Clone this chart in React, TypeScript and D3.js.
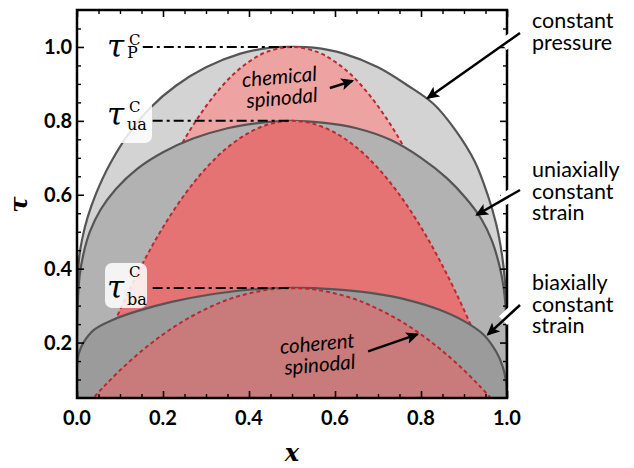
import React, { useEffect, useRef } from 'react';
import * as d3 from 'd3';

// binodals
const pressureX = [0, 0.0008, 0.002, 0.005, 0.012, 0.025, 0.045, 0.075, 0.12, 0.17, 0.23, 0.3, 0.38, 0.45, 0.5, 0.55, 0.62, 0.7, 0.77, 0.83, 0.88, 0.925, 0.955, 0.975, 0.988, 0.995, 0.999, 1];
const pressureTau = [0.05, 0.3, 0.37, 0.43, 0.48, 0.54, 0.605, 0.68, 0.765, 0.835, 0.895, 0.945, 0.982, 0.998, 1, 0.998, 0.982, 0.945, 0.895, 0.845, 0.775, 0.69, 0.6, 0.52, 0.44, 0.37, 0.29, 0.05];

const uniaxX = [0, 0.0005, 0.002, 0.006, 0.015, 0.03, 0.055, 0.09, 0.14, 0.2, 0.27, 0.35, 0.43, 0.5, 0.57, 0.65, 0.73, 0.8, 0.86, 0.905, 0.94, 0.965, 0.982, 0.992, 0.997, 1];
const uniaxTau = [0.05, 0.25, 0.31, 0.38, 0.44, 0.5, 0.56, 0.615, 0.67, 0.715, 0.752, 0.78, 0.795, 0.8, 0.795, 0.78, 0.748, 0.7, 0.645, 0.59, 0.535, 0.475, 0.41, 0.35, 0.29, 0.05];

const biaxX = [0, 0.0005, 0.004, 0.015, 0.04, 0.08, 0.14, 0.22, 0.31, 0.4, 0.5, 0.6, 0.69, 0.77, 0.84, 0.9, 0.945, 0.975, 0.99, 0.997, 1];
const biaxTau = [0.05, 0.145, 0.17, 0.2, 0.235, 0.26, 0.285, 0.31, 0.33, 0.343, 0.348, 0.344, 0.333, 0.315, 0.29, 0.258, 0.222, 0.175, 0.135, 0.1, 0.05];

// spinodals
const chemX = [0.2, 0.24, 0.28, 0.32, 0.36, 0.4, 0.44, 0.5, 0.56, 0.6, 0.64, 0.68, 0.72, 0.76, 0.8];
const chemTau = [0.64, 0.73, 0.806, 0.87, 0.922, 0.96, 0.986, 1, 0.986, 0.96, 0.922, 0.87, 0.806, 0.73, 0.64];

const uniSpinX = [0.05, 0.08, 0.12, 0.16, 0.2, 0.25, 0.3, 0.35, 0.4, 0.45, 0.5, 0.55, 0.6, 0.65, 0.7, 0.75, 0.8, 0.84, 0.88, 0.92, 0.95];
const uniSpinTau = [0.152, 0.236, 0.338, 0.43, 0.512, 0.6, 0.672, 0.728, 0.768, 0.792, 0.8, 0.792, 0.768, 0.728, 0.672, 0.6, 0.512, 0.43, 0.338, 0.236, 0.152];

const cohX = [0.03, 0.06, 0.1, 0.15, 0.2, 0.25, 0.3, 0.35, 0.4, 0.45, 0.5, 0.55, 0.6, 0.65, 0.7, 0.75, 0.8, 0.85, 0.9, 0.94, 0.97];
const cohTau = [0.04, 0.078, 0.125, 0.177, 0.222, 0.26, 0.291, 0.316, 0.333, 0.344, 0.347, 0.344, 0.333, 0.316, 0.291, 0.26, 0.222, 0.177, 0.125, 0.078, 0.04];

const criticalTau = [1.0, 0.8, 0.348];
const xMajor = [0, 0.2, 0.4, 0.6, 0.8, 1.0];
const yMajor = [0.2, 0.4, 0.6, 0.8, 1.0];

const W = 634, H = 468;
const margin = { top: 10, right: 127, bottom: 70, left: 77 };

const zip = (xs: number[], ys: number[]) => xs.map((x, i) => ({ x, t: ys[i] }));

const App = () => {
  const svgRef = useRef<SVGSVGElement>(null);

  useEffect(() => {
    const svg = d3.select(svgRef.current);
    svg.selectAll('*').remove();
    const width = W - margin.left - margin.right;
    const height = H - margin.top - margin.bottom;

    const x = d3.scaleLinear().domain([0, 1]).range([margin.left, margin.left + width]);
    const y = d3.scaleLinear().domain([0.05, 1.1]).range([margin.top + height, margin.top]);

    const defs = svg.append('defs');
    defs.append('clipPath').attr('id', 'plotclip').append('rect')
      .attr('x', margin.left).attr('y', margin.top).attr('width', width).attr('height', height);
    defs.append('marker').attr('id', 'arr').attr('markerUnits', 'userSpaceOnUse')
      .attr('markerWidth', 14).attr('markerHeight', 12).attr('refX', 11).attr('refY', 6)
      .attr('orient', 'auto')
      .append('path').attr('d', 'M0,0 L13,6 L0,12 L3,6 Z').attr('fill', '#000');

    const curve = d3.curveCatmullRom.alpha(0.5);
    const area = d3.area<{ x: number; t: number }>()
      .x(d => x(d.x)).y0(y(0.05)).y1(d => y(d.t)).curve(curve);
    const line = d3.line<{ x: number; t: number }>()
      .x(d => x(d.x)).y(d => y(d.t)).curve(curve);

    const g = svg.append('g').attr('clip-path', 'url(#plotclip)');

    const layers = [
      { data: zip(pressureX, pressureTau), fill: '#d3d3d3', kind: 'bin' },
      { data: zip(chemX, chemTau), fill: '#eea3a3', kind: 'sp' },
      { data: zip(uniaxX, uniaxTau), fill: '#b2b2b2', kind: 'bin' },
      { data: zip(uniSpinX, uniSpinTau), fill: '#e57373', kind: 'sp' },
      { data: zip(biaxX, biaxTau), fill: '#9b9b9b', kind: 'bin' },
      { data: zip(cohX, cohTau), fill: '#c97a7a', kind: 'sp' },
    ];
    layers.forEach(l => {
      g.append('path').datum(l.data).attr('d', area).attr('fill', l.fill);
      const p = g.append('path').datum(l.data).attr('d', line).attr('fill', 'none');
      if (l.kind === 'bin') p.attr('stroke', '#555').attr('stroke-width', 2.2);
      else p.attr('stroke', '#c0262c').attr('stroke-width', 2).attr('stroke-dasharray', '4 3');
    });

    // label boxes
    svg.append('rect').attr('x', 104).attr('y', 99).attr('width', 48).attr('height', 44)
      .attr('rx', 7).attr('fill', '#fff').attr('opacity', 0.85);
    svg.append('rect').attr('x', 105).attr('y', 263).attr('width', 42).attr('height', 45)
      .attr('rx', 7).attr('fill', '#fff').attr('opacity', 0.85);

    // critical dash-dot lines
    const startX = [0.153, 0.176, 0.176];
    criticalTau.forEach((t, i) => {
      svg.append('line').attr('x1', x(startX[i])).attr('x2', x(0.5))
        .attr('y1', y(t)).attr('y2', y(t))
        .attr('stroke', '#000').attr('stroke-width', 2).attr('stroke-dasharray', '10 4 3 4');
    });

    // critical labels
    const serif = "'DejaVu Serif', serif";
    const labels = [
      { sub: 'P', base: 57, sup: 45, subBase: 58 },
      { sub: 'ua', base: 125, sup: 112, subBase: 130 },
      { sub: 'ba', base: 298, sup: 277, subBase: 305 },
    ];
    labels.forEach(l => {
      svg.append('text').attr('x', 107).attr('y', l.base).text('τ')
        .attr('font-family', serif).attr('font-style', 'italic').attr('font-size', 31);
      svg.append('text').attr('x', 129).attr('y', l.sup).text('C')
        .attr('font-family', serif).attr('font-size', 15);
      svg.append('text').attr('x', 127).attr('y', l.subBase).text(l.sub)
        .attr('font-family', serif).attr('font-size', 16);
    });

    // frame + ticks
    const tickG = svg.append('g').attr('fill', 'none');
    const yMinor = d3.range(0.1, 1.1, 0.05).filter(v => !yMajor.some(m => Math.abs(m - v) < 1e-6));
    const xMinor = d3.range(0.05, 1.0, 0.05).filter(v => !xMajor.some(m => Math.abs(m - v) < 1e-6));
    const axes = [
      { ax: d3.axisBottom(x), pos: `translate(0,${margin.top + height})`, major: xMajor, minor: xMinor },
      { ax: d3.axisTop(x), pos: `translate(0,${margin.top})`, major: xMajor, minor: xMinor },
      { ax: d3.axisLeft(y), pos: `translate(${margin.left},0)`, major: yMajor, minor: yMinor },
      { ax: d3.axisRight(y), pos: `translate(${margin.left + width},0)`, major: yMajor, minor: yMinor },
    ];
    axes.forEach(a => {
      tickG.append('g').attr('transform', a.pos)
        .call(a.ax.tickValues(a.major).tickSize(-7).tickFormat(() => ''))
        .call(s => s.select('.domain').remove())
        .selectAll('line').attr('stroke', '#000').attr('stroke-width', 1.6);
      tickG.append('g').attr('transform', a.pos)
        .call(a.ax.tickValues(a.minor).tickSize(-4).tickFormat(() => ''))
        .call(s => s.select('.domain').remove())
        .selectAll('line').attr('stroke', '#000').attr('stroke-width', 1.4);
    });
    svg.append('rect').attr('x', margin.left).attr('y', margin.top)
      .attr('width', width).attr('height', height)
      .attr('fill', 'none').attr('stroke', '#000').attr('stroke-width', 2.5);

    const sans = "Lato, 'Open Sans', sans-serif";
    xMajor.forEach(v => {
      svg.append('text').attr('x', x(v)).attr('y', margin.top + height + 27)
        .attr('text-anchor', 'middle').attr('font-family', sans).attr('font-weight', 'bold')
        .attr('font-size', 20).text(v.toFixed(1));
    });
    yMajor.forEach(v => {
      svg.append('text').attr('x', margin.left - 5).attr('y', y(v) + 7)
        .attr('text-anchor', 'end').attr('font-family', sans).attr('font-weight', 'bold')
        .attr('font-size', 20).text(v.toFixed(1));
    });

    // axis titles
    svg.append('text').attr('x', x(0.5)).attr('y', 461).attr('text-anchor', 'middle')
      .attr('font-family', serif).attr('font-style', 'italic').attr('font-weight', 'bold')
      .attr('font-size', 24).text('x');
    svg.append('text').attr('transform', `translate(27,${y(0.6) + 10}) rotate(-90)`)
      .attr('text-anchor', 'middle').attr('font-family', serif).attr('font-style', 'italic')
      .attr('font-weight', 'bold').attr('font-size', 24).text('τ');

    // in-plot notes
    const notes = [
      { lines: ['chemical', 'spinodal'], cx: 0.472, t: 0.9, dt: 0.057 },
      { lines: ['coherent', 'spinodal'], cx: 0.56, t: 0.178, dt: 0.057 },
    ];
    notes.forEach(n => {
      n.lines.forEach((s, i) => {
        const px = x(n.cx + i * 0.006), py = y(n.t - i * n.dt);
        svg.append('text').attr('transform', `translate(${px},${py}) rotate(-5)`)
          .attr('text-anchor', 'middle').attr('font-family', sans).attr('font-style', 'italic')
          .attr('font-size', 20.5).text(s);
      });
    });

    // arrows
    const arrows = [
      { x1: x(0.588), y1: y(0.889), x2: x(0.64), y2: y(0.908), halo: false },
      { x1: x(0.677), y1: y(0.176), x2: x(0.791), y2: y(0.222), halo: false },
      { x1: 520, y1: 33, x2: x(0.816), y2: y(0.862), halo: true },
      { x1: 520, y1: 190, x2: x(0.93), y2: y(0.546), halo: true },
      { x1: 520, y1: 305, x2: x(0.956), y2: y(0.222), halo: true },
    ];
    arrows.forEach(a => {
      if (a.halo) {
        const f = (v: number) => (v - a.x1) / (a.x2 - a.x1);
        const xa = 513, xb = 503;
        svg.append('line')
          .attr('x1', xa).attr('y1', a.y1 + f(xa) * (a.y2 - a.y1))
          .attr('x2', xb).attr('y2', a.y1 + f(xb) * (a.y2 - a.y1))
          .attr('stroke', '#fff').attr('stroke-width', 12);
      }
      svg.append('line').attr('x1', a.x1).attr('y1', a.y1).attr('x2', a.x2).attr('y2', a.y2)
        .attr('stroke', '#000').attr('stroke-width', 2.5).attr('marker-end', 'url(#arr)');
    });

    // right labels
    const sideLabels = [
      { lines: ['constant', 'pressure'], base: 28 },
      { lines: ['uniaxially', 'constant', 'strain'], base: 177 },
      { lines: ['biaxially', 'constant', 'strain'], base: 290 },
    ];
    sideLabels.forEach(s => {
      s.lines.forEach((t, i) => {
        svg.append('text').attr('x', 532).attr('y', s.base + i * 21.5)
          .attr('font-family', sans).attr('font-size', 21.5).text(t);
      });
    });
  }, []);

  return (
    <div style={{ position: 'absolute', left: 0, top: 0, background: '#fff' }}>
      <svg ref={svgRef} width={W} height={H} />
    </div>
  );
};

export default App;
